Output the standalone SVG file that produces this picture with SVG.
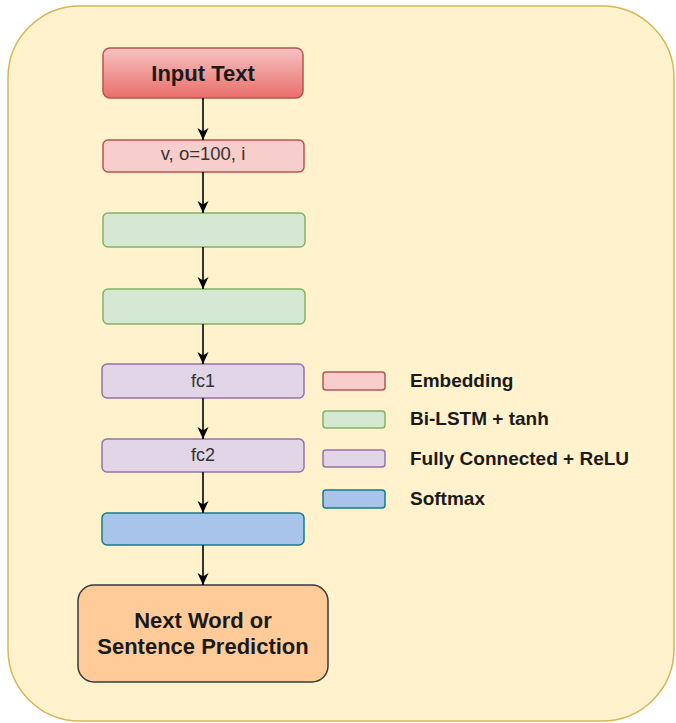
<svg xmlns="http://www.w3.org/2000/svg" width="676" height="723" viewBox="0 0 676 723">
<defs>
<linearGradient id="gIn" x1="0" y1="0" x2="0" y2="1">
<stop offset="0" stop-color="#f6c3c2"/>
<stop offset="1" stop-color="#e96e6b"/>
</linearGradient>
<marker id="arr" viewBox="0 0 12 12" refX="12" refY="6" markerWidth="12" markerHeight="12" markerUnits="userSpaceOnUse" orient="auto">
<path d="M0,0.5 L12,6 L0,11.5 L3.5,6 Z" fill="#000"/>
</marker>
<style>
.t{font-family:"Liberation Sans",Arial,sans-serif;fill:#1a1a1a}
.b{font-weight:bold}
.emb{fill:#f8cecc;stroke:#b85450;stroke-width:1.5}
.lstm{fill:#d5e8d4;stroke:#82b366;stroke-width:1.5}
.fc{fill:#e1d5e7;stroke:#9673a6;stroke-width:1.5}
.sm{fill:#a9c4eb;stroke:#0e8088;stroke-width:1.5}
.edge{stroke:#000;stroke-width:1.6;fill:none;marker-end:url(#arr)}
</style>
</defs>
<rect x="8" y="6" width="666" height="715" rx="72" fill="#fff2cc" stroke="#d6b656" stroke-width="1.5"/>
<g id="input">
<rect x="103" y="48" width="200" height="50" rx="7" fill="url(#gIn)" stroke="#b85450" stroke-width="1.5"/>
<text class="t b" x="203" y="81" font-size="22" text-anchor="middle">Input Text</text>
</g>
<g id="embedding">
<rect class="emb" x="103" y="140" width="201" height="32" rx="5"/>
<text class="t" x="203" y="160" font-size="18.5" text-anchor="middle" style="fill:#333">v, o=100, i</text>
</g>
<g id="lstm1"><rect class="lstm" x="103" y="213" width="202" height="34" rx="5"/></g>
<g id="lstm2"><rect class="lstm" x="103" y="289" width="202" height="35" rx="5"/></g>
<g id="fc1">
<rect class="fc" x="102" y="364" width="202" height="34" rx="5"/>
<text class="t" x="203" y="387" font-size="18" text-anchor="middle" style="fill:#333">fc1</text>
</g>
<g id="fc2">
<rect class="fc" x="102" y="439" width="202" height="33" rx="5"/>
<text class="t" x="203" y="461" font-size="18" text-anchor="middle" style="fill:#333">fc2</text>
</g>
<g id="softmax"><rect class="sm" x="102" y="513" width="202" height="32" rx="5"/></g>
<g id="output">
<rect x="78" y="585" width="250" height="97" rx="16" fill="#ffcc99" stroke="#36393d" stroke-width="1.5"/>
<text class="t b" x="203" y="628" font-size="22" text-anchor="middle">Next Word or</text>
<text class="t b" x="203" y="654" font-size="22" text-anchor="middle">Sentence Prediction</text>
</g>
<g id="legend">
<g id="leg-emb"><rect class="emb" x="323" y="372" width="62" height="18" rx="3"/><text class="t b" x="410" y="387" font-size="19">Embedding</text></g>
<g id="leg-lstm"><rect class="lstm" x="323" y="411" width="62" height="17" rx="3"/><text class="t b" x="410" y="425" font-size="19">Bi-LSTM + tanh</text></g>
<g id="leg-fc"><rect class="fc" x="323" y="450" width="62" height="17" rx="3"/><text class="t b" x="410" y="465" font-size="19">Fully Connected + ReLU</text></g>
<g id="leg-sm"><rect class="sm" x="323" y="490" width="62" height="18" rx="3"/><text class="t b" x="410" y="505" font-size="19">Softmax</text></g>
</g>
<g id="connectors">
<line class="edge" x1="203" y1="98" x2="203" y2="140"/>
<line class="edge" x1="203" y1="172" x2="203" y2="213"/>
<line class="edge" x1="203" y1="247" x2="203" y2="289"/>
<line class="edge" x1="203" y1="324" x2="203" y2="364"/>
<line class="edge" x1="203" y1="398" x2="203" y2="439"/>
<line class="edge" x1="203" y1="472" x2="203" y2="513"/>
<line class="edge" x1="203" y1="545" x2="203" y2="585"/>
</g>
</svg>
